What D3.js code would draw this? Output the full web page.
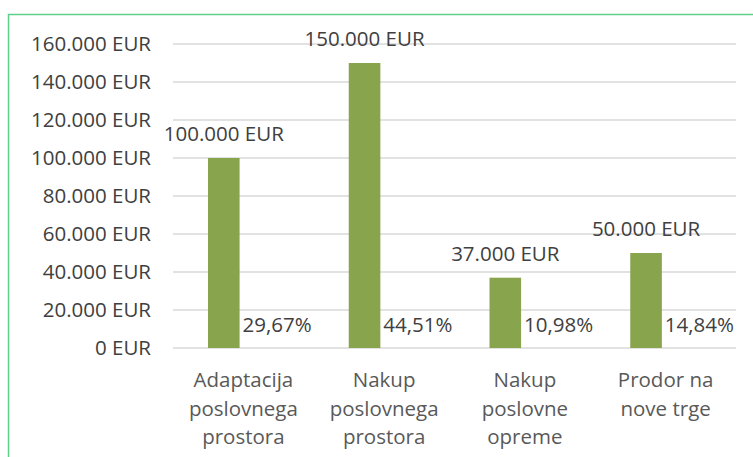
<!DOCTYPE html>
<html>
<head>
<meta charset="utf-8">
<script src="https://cdn.jsdelivr.net/npm/d3@7"></script>
<style>
  body { margin: 0; background: #fff; }
  svg { display: block; font-family: "Open Sans", sans-serif; }
</style>
</head>
<body>
<div id="chart"></div>
<script>
// podatki
const categories = [
    ["Adaptacija", "poslovnega", "prostora"],
    ["Nakup", "poslovnega", "prostora"],
    ["Nakup", "poslovne", "opreme"],
    ["Prodor na", "nove trge"]
];
const values = [100000, 150000, 37000, 50000];
const shares = ["29,67%", "44,51%", "10,98%", "14,84%"];
const yTicks = [0, 20000, 40000, 60000, 80000, 100000, 120000, 140000, 160000];

const W = 753, H = 457;
const plotLeft = 173, plotRight = 736, plotTop = 44, plotBottom = 348;
const fontSize = '20.5px';

const fmt = v => d3.format(",")(v).replace(/,/g, ".") + " EUR";

const svg = d3.select('#chart').append('svg')
    .attr('width', W)
    .attr('height', H);

// okvir
svg.append('rect')
    .attr('x', 8.5).attr('y', 14.5)
    .attr('width', 760).attr('height', 460)
    .attr('fill', 'none')
    .attr('stroke', '#5fd08c')
    .attr('stroke-width', 1.5);

const x = d3.scaleBand()
    .domain(d3.range(categories.length))
    .range([plotLeft, plotRight]);

const y = d3.scaleLinear()
    .domain([0, 160000])
    .range([plotBottom, plotTop]);

// mreža
svg.append('g')
    .selectAll('line')
    .data(yTicks)
    .enter()
    .append('line')
    .attr('x1', plotLeft).attr('x2', plotRight)
    .attr('y1', d => y(d)).attr('y2', d => y(d))
    .attr('stroke', '#d9d9d9')
    .attr('stroke-width', 1.3);

// os y
const yAxis = svg.append('g')
    .attr('transform', `translate(${plotLeft - 22},0)`)
    .call(d3.axisLeft(y).tickValues(yTicks).tickFormat(fmt).tickSize(0).tickPadding(0));
yAxis.select('.domain').remove();
yAxis.selectAll('text')
    .attr('font-size', fontSize)
    .attr('font-family', '"Open Sans", sans-serif')
    .attr('fill', '#404040');

const barW = 31.6;
const barX = i => x(i) + 35;

// stolpci
svg.selectAll('.bar')
    .data(values)
    .enter()
    .append('rect')
    .attr('class', 'bar')
    .attr('x', (d, i) => barX(i))
    .attr('y', d => y(d))
    .attr('width', barW)
    .attr('height', d => y(0) - y(d))
    .attr('fill', '#88a44c');

// oznake vrednosti
svg.selectAll('.val')
    .data(values)
    .enter()
    .append('text')
    .attr('class', 'val')
    .attr('x', (d, i) => barX(i) + barW / 2)
    .attr('y', d => y(d) - 17)
    .attr('text-anchor', 'middle')
    .attr('font-size', fontSize)
    .attr('fill', '#404040')
    .text(d => fmt(d));

// deleži
svg.selectAll('.share')
    .data(shares)
    .enter()
    .append('text')
    .attr('class', 'share')
    .attr('x', (d, i) => barX(i) + barW + 3)
    .attr('y', plotBottom - 16)
    .attr('font-size', fontSize)
    .attr('fill', '#404040')
    .text(d => d);

// kategorije
const cat = svg.selectAll('.cat')
    .data(categories)
    .enter()
    .append('text')
    .attr('class', 'cat')
    .attr('text-anchor', 'middle')
    .attr('font-size', fontSize)
    .attr('fill', '#595959');
cat.each(function(d, i) {
    d3.select(this).selectAll('tspan')
        .data(d)
        .enter()
        .append('tspan')
        .attr('x', x(i) + x.bandwidth() / 2)
        .attr('y', (t, j) => 387 + j * 28.5)
        .text(t => t);
});
</script>
</body>
</html>
